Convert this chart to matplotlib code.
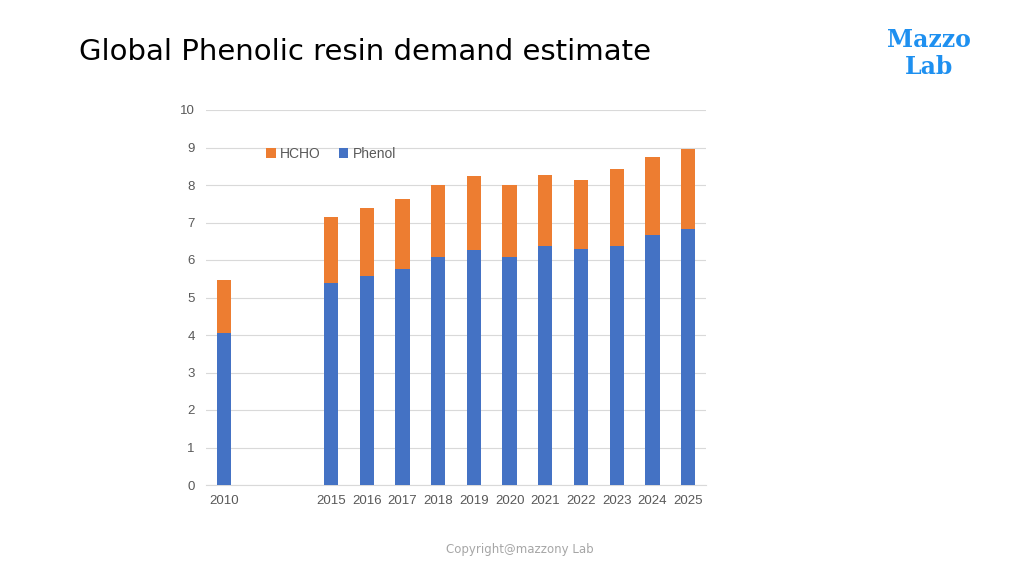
import matplotlib
matplotlib.use("Agg")
import matplotlib.pyplot as plt
import numpy as np

years = ["2010", "", "", "2015", "2016", "2017", "2018", "2019", "2020",
         "2021", "2022", "2023", "2024", "2025"]
phenol = [4.05, np.nan, np.nan, 5.40, 5.57, 5.77, 6.08, 6.28, 6.08,
          6.38, 6.29, 6.38, 6.67, 6.84]
hcho = [1.42, np.nan, np.nan, 1.75, 1.83, 1.87, 1.93, 1.96, 1.91,
        1.88, 1.83, 2.05, 2.08, 2.13]
yticks = [0, 1, 2, 3, 4, 5, 6, 7, 8, 9, 10]

W, H = 1024, 576
fig = plt.figure(figsize=(W / 100, H / 100), dpi=100)
fig.patch.set_facecolor("white")

ax = fig.add_axes([206 / W, 1 - 485 / H, (706 - 206) / W, (485 - 110) / H])
x = np.arange(len(years))
blue = "#4472C4"
orange = "#ED7D31"
ax.bar(x, hcho, bottom=phenol, width=0.4, color=orange, label="HCHO", zorder=3)
ax.bar(x, phenol, width=0.4, color=blue, label="Phenol", zorder=3)

ax.set_xlim(-0.5, len(years) - 0.5)
ax.set_ylim(0, 10)
ax.set_yticks(yticks)
ax.set_xticks(x)
ax.set_xticklabels(years)
ax.grid(axis="y", color="#D9D9D9", linewidth=0.8, zorder=0)
for s in ["top", "right", "left"]:
    ax.spines[s].set_visible(False)
ax.spines["bottom"].set_color("#D9D9D9")
ax.tick_params(axis="both", length=0, colors="#595959", labelsize=9.5)
ax.tick_params(axis="y", pad=8)
ax.tick_params(axis="x", pad=7)
for lbl in ax.get_xticklabels() + ax.get_yticklabels():
    lbl.set_family("Liberation Sans")

leg = ax.legend(loc="upper left", bbox_to_anchor=(0.095, 0.935), ncol=2, frameon=False,
                prop={"family": "Liberation Sans", "size": 10},
                handlelength=0.7, handleheight=0.7, handletextpad=0.3,
                columnspacing=1.3, labelcolor="#595959")

fig.text(79 / W, 1 - 52 / H, "Global Phenolic resin demand estimate",
         fontsize=21, color="black", ha="left", va="center")
fig.text(929 / W, 1 - 40 / H, "Mazzo", fontsize=17, fontweight="bold",
         family="DejaVu Serif", color="#1E90F0", ha="center", va="center")
fig.text(929 / W, 1 - 67 / H, "Lab", fontsize=17, fontweight="bold",
         family="DejaVu Serif", color="#1E90F0", ha="center", va="center")
fig.text(520 / W, 1 - 550 / H, "Copyright@mazzony Lab", fontsize=8.5,
         color="#A6A6A6", ha="center", va="center")

fig.savefig("out.png", dpi=100, facecolor="white")
